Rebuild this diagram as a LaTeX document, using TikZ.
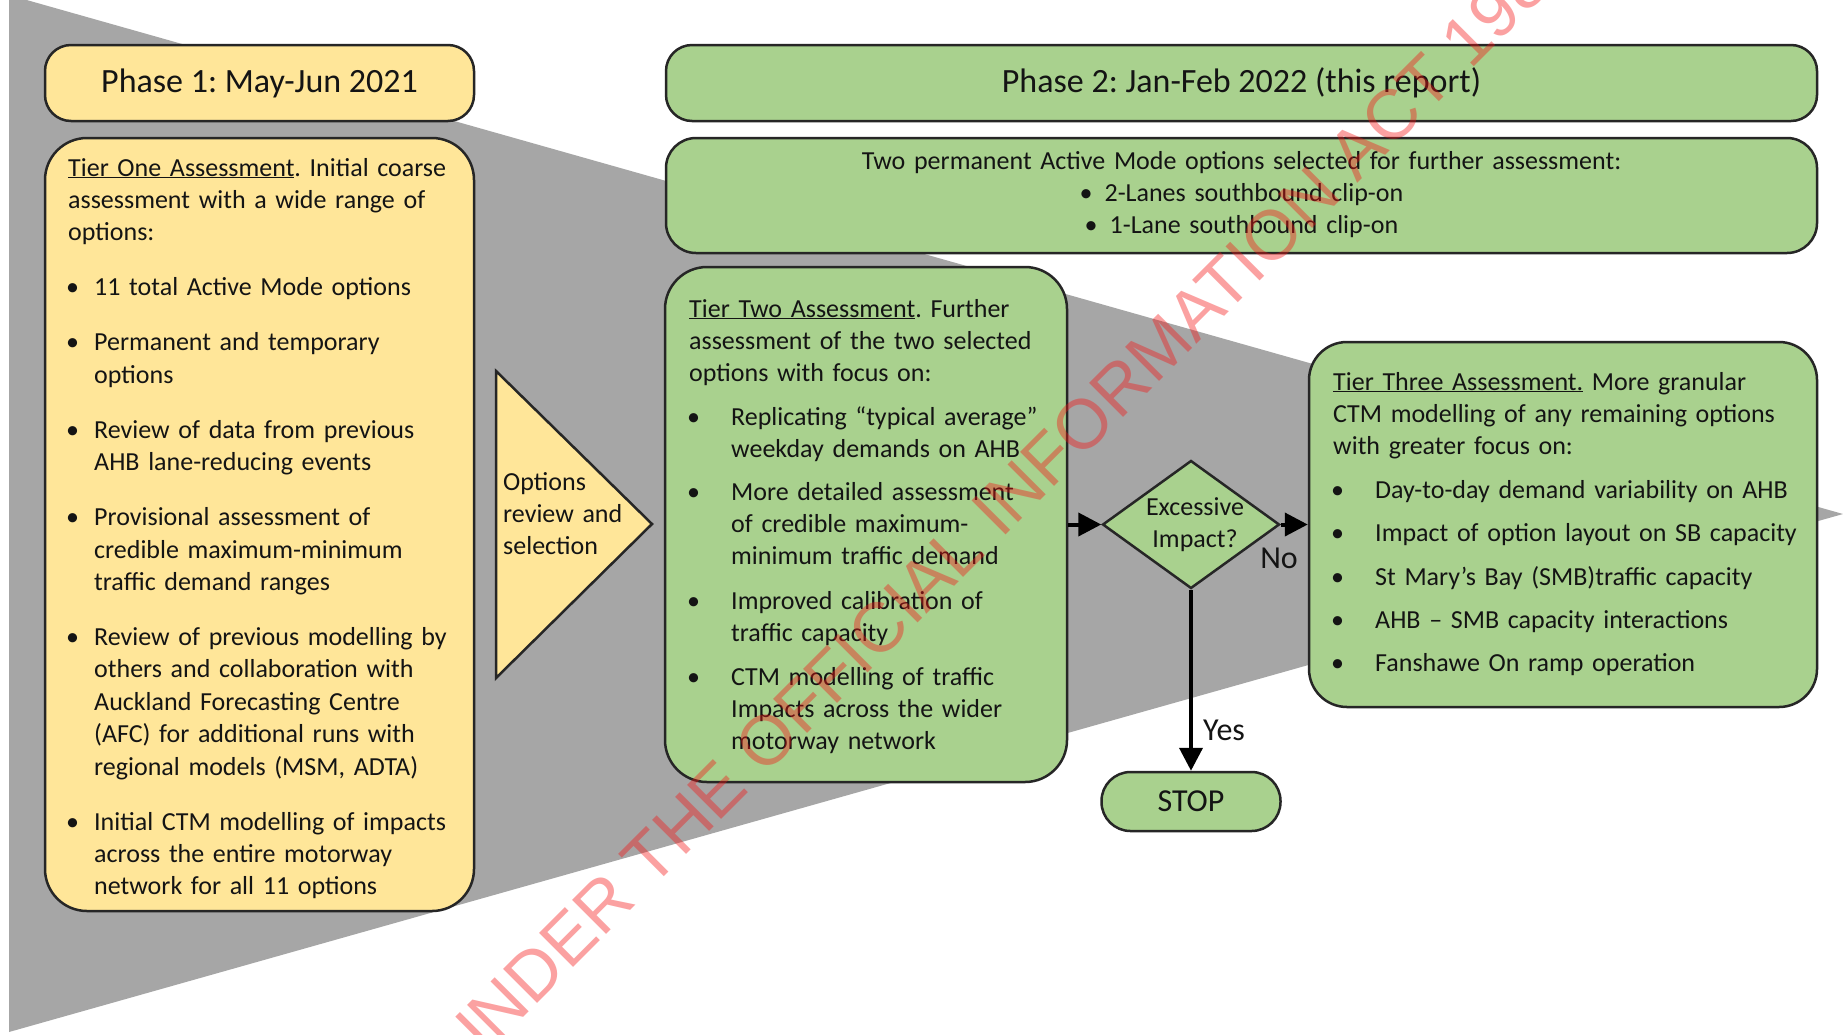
\documentclass[tikz,border=0pt]{standalone}
\usepackage{fontspec}
\setmainfont{Carlito}
\newfontfamily\wmfont{Liberation Sans}
\usetikzlibrary{shapes.geometric,arrows.meta}
\definecolor{yel}{HTML}{FFE699}
\definecolor{grn}{HTML}{A9D18E}
\definecolor{gry}{HTML}{A6A6A6}
\definecolor{edge}{HTML}{262626}
\definecolor{ink}{HTML}{141414}
\definecolor{wmred}{HTML}{F51414}
\newlength\myind
\newlength\mybshift
\newcommand\mybody{\fontsize{26.0}{32.4}\selectfont}
\newcommand\myset{\frenchspacing\parskip=0pt\parindent=0pt\rightskip=0pt plus 1fil\relax}
\newcommand\bitem[2]{\par\vspace{#1}\hangindent=\myind\hangafter=1\noindent\makebox[\myind][l]{\hspace{\mybshift}\textbullet}#2}
\tikzset{
  box/.style={draw=edge, line width=2.5pt, inner sep=0pt},
  ybox/.style={box, fill=yel},
  gbox/.style={box, fill=grn},
  txt/.style={inner sep=0pt, anchor=base west, font=\mybody, text=ink},
  lbl/.style={inner sep=0pt, font=\fontsize{32}{38}\selectfont, text=ink},
  title/.style={font=\frenchspacing\fontsize{34}{40}\selectfont, text=ink},
  arr/.style={line width=4pt, draw=black, -{Triangle[length=23pt,width=23pt]}},
  wm/.style={inner sep=0pt, anchor=base west, rotate=45, font=\wmfont\fontsize{70}{70}\selectfont, text=wmred, text opacity=0.4}
}
\begin{document}
\frenchspacing
\begin{tikzpicture}[x=1pt,y=-1pt]
\useasboundingbox (0,0) rectangle (1843,1034);
\clip (0,0) rectangle (1843,1034);
\fill[white] (0,0) rectangle (1843,1034);
% grey funnel
\fill[gry] (9,-5) -- (1843,514) -- (9,1032) -- cycle;

% Phase 1
\node[ybox, rounded corners=26pt, minimum width=429pt, minimum height=76pt, title] (p1) at (259.5,83) {Phase 1: May-Jun 2021};
\node[ybox, rounded corners=42pt, minimum width=429pt, minimum height=773pt] (t1) at (259.5,524.5) {};
\node[txt, text width=420pt] (t1txt) at (68,176) {\myset\setlength\myind{26pt}\setlength\mybshift{-2pt}%
\underline{Tier One Assessment}. Initial coarse\newline
assessment with a wide range of\newline
options:%
\bitem{22.6pt}{11 total Active Mode options}%
\bitem{22.6pt}{Permanent and temporary\newline options}%
\bitem{22.6pt}{Review of data from previous\newline AHB lane-reducing events}%
\bitem{22.6pt}{Provisional assessment of\newline credible maximum-minimum\newline traffic demand ranges}%
\bitem{22.6pt}{Review of previous modelling by\newline others and collaboration with\newline Auckland Forecasting Centre\newline (AFC) for additional runs with\newline regional models (MSM, ADTA)}%
\bitem{22.6pt}{Initial CTM modelling of impacts\newline across the entire motorway\newline network for all 11 options}\par};

% Options triangle
\filldraw[fill=yel, draw=edge, line width=2.5pt, line join=miter] (496,371) -- (652,524) -- (496,678) -- cycle;
\node[txt, text width=150pt] (opt) at (503,490) {\myset Options\newline review and\newline selection\par};

% Phase 2
\node[gbox, rounded corners=26pt, minimum width=1151pt, minimum height=76pt, title] (p2) at (1241.5,83) {Phase 2: Jan-Feb 2022 (this report)};
\node[gbox, rounded corners=30pt, minimum width=1151pt, minimum height=115pt] (two) at (1241.5,195.5) {};
\node[txt, anchor=base, text width=1100pt] (twotxt) at (1241.5,169) {\myset\centering
Two permanent Active Mode options selected for further assessment:\par
\textbullet\hspace{12pt}2-Lanes southbound clip-on\par
\textbullet\hspace{12pt}1-Lane southbound clip-on\par};

% Tier two
\node[gbox, rounded corners=42pt, minimum width=402pt, minimum height=515pt] (t2) at (866,524.5) {};
\node[txt, text width=380pt] (t2txt) at (689,317) {\myset\setlength\myind{42pt}\setlength\mybshift{-2pt}%
\underline{Tier Two Assessment}. Further\newline
assessment of the two selected\newline
options with focus on:%
\bitem{11pt}{Replicating “typical average”\newline weekday demands on AHB}%
\bitem{10pt}{More detailed assessment\newline of credible maximum-\newline minimum traffic demand}%
\bitem{12pt}{Improved calibration of\newline traffic capacity}%
\bitem{11pt}{CTM modelling of traffic\newline Impacts across the wider\newline motorway network}\par};

% Decision
\node[shape=diamond, gbox, minimum width=177pt, minimum height=128pt] (dia) at (1191,524.5) {};
\node[txt, anchor=base, text width=160pt] (diatxt) at (1195,515) {\myset\centering Excessive\par Impact?\par};

% Tier three
\node[gbox, rounded corners=38pt, minimum width=508pt, minimum height=365pt] (t3) at (1563,524.5) {};
\node[txt, text width=490pt] (t3txt) at (1333,390) {\myset\setlength\myind{42pt}\setlength\mybshift{-2pt}%
\underline{Tier Three Assessment.} More granular\newline
CTM modelling of any remaining options\newline
with greater focus on:%
\bitem{11pt}{Day-to-day demand variability on AHB}%
\bitem{11pt}{Impact of option layout on SB capacity}%
\bitem{11pt}{St Mary’s Bay (SMB)traffic capacity}%
\bitem{11pt}{AHB – SMB capacity interactions}%
\bitem{11pt}{Fanshawe On ramp operation}\par};

% STOP
\node[gbox, rounded corners=29pt, minimum width=179pt, minimum height=59pt, lbl, inner sep=0pt] (stop) at (1191,801.5) {STOP};

% connectors
\draw[arr] (t2.east) -- (dia.west);
\draw[arr] (dia.east) -- (t3.west);
\draw[arr] (dia.south) -- (stop.north);
\node[lbl, anchor=base] (no) at (1279,568) {No};
\node[lbl, anchor=base west] (yes) at (1203,740) {Yes};

% watermark
\node[wm] (wmk) at (462,1079) {UNDER THE OFFICIAL INFORMATION ACT 1982};
\end{tikzpicture}
\end{document}
